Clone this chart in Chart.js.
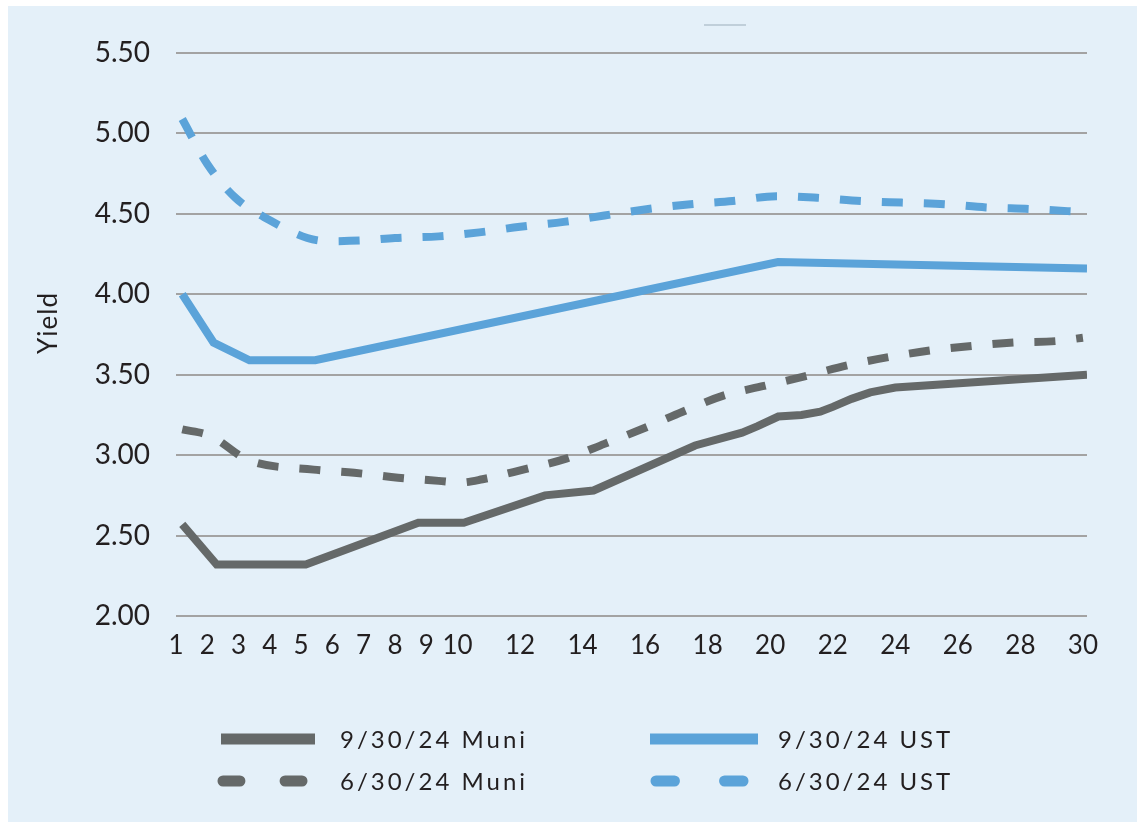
<!DOCTYPE html>
<html>
<head>
<meta charset="utf-8">
<script src="https://cdn.jsdelivr.net/npm/chart.js@4.4.1/dist/chart.umd.min.js"></script>
<style>
  html, body { margin: 0; padding: 0; background: #ffffff; }
  #panel { position: absolute; left: 8px; top: 6px; width: 1129px; height: 816px; background: #E4F0F9; }
  canvas { display: block; }
</style>
</head>
<body>
<div id="panel"><canvas id="curve" width="1129" height="816"></canvas></div>
<script>
// Maturity (years) tick labels shown along the bottom
const maturityTicks = [1, 2, 3, 4, 5, 6, 7, 8, 9, 10, 12, 14, 16, 18, 20, 22, 24, 26, 28, 30];

// 9/30/24 Muni curve
const muniSepX = [1.2, 2.3, 5.15, 8.75, 10.2, 12.8, 14.35, 17.6, 19.1, 19.6, 20.26, 21.0, 21.6, 22.0, 22.6, 23.2, 24.0, 30.13];
const muniSepY = [2.57, 2.32, 2.32, 2.58, 2.58, 2.75, 2.78, 3.06, 3.14, 3.18, 3.24, 3.25, 3.27, 3.30, 3.35, 3.39, 3.42, 3.50];

// 6/30/24 Muni curve
const muniJunX = [1.2, 2.1, 3.3, 5.4, 6.7, 8.1, 9.4, 10.1, 10.8, 12.1, 13.5, 14.7, 16.0, 17.2, 18.5, 19.8, 21.1, 22.5, 23.8, 25.1, 26.5, 27.8, 29.2, 30.0];
const muniJunY = [3.16, 3.12, 2.97, 2.91, 2.89, 2.86, 2.84, 2.83, 2.85, 2.91, 2.98, 3.07, 3.17, 3.27, 3.37, 3.43, 3.49, 3.56, 3.61, 3.65, 3.68, 3.70, 3.71, 3.73];

// 9/30/24 UST curve
const ustSepX = [1.2, 2.2, 3.35, 5.45, 20.25, 30.13];
const ustSepY = [4.00, 3.70, 3.59, 3.59, 4.20, 4.16];

// 6/30/24 UST curve
const ustJunX = [1.2, 2.0, 2.9, 4.0, 5.2, 5.85, 7.0, 8.0, 9.4, 10.7, 12.0, 13.4, 14.7, 16.1, 17.45, 18.8, 20.2, 21.5, 22.9, 24.2, 25.6, 26.9, 28.3, 30.13];
const ustJunY = [5.09, 4.81, 4.60, 4.46, 4.35, 4.33, 4.335, 4.35, 4.36, 4.385, 4.42, 4.45, 4.49, 4.53, 4.56, 4.58, 4.61, 4.60, 4.58, 4.57, 4.56, 4.54, 4.53, 4.51];

const yieldTicksStep = 0.5;
const yAxisTitle = 'Yield';

const GRAY = '#656969';
const BLUE = '#5BA3D9';
const INK = '#231F20';

const pts = (xs, ys) => xs.map((x, i) => ({ x: x, y: ys[i] }));

// Legend layout: two columns, two rows (swatch start, swatch end, text start)
const legendSlots = [
  { x0: 213, x1: 307, tx: 332, y: 733 },
  { x0: 210, x1: 299, tx: 332, y: 775 },
  { x0: 642, x1: 750, tx: 770, y: 733 },
  { x0: 643, x1: 740, tx: 770, y: 775 }
];

const legendPlugin = {
  id: 'curveLegend',
  afterDraw(chart) {
    const ctx = chart.ctx;
    chart.data.datasets.forEach((ds, i) => {
      const s = legendSlots[i];
      ctx.save();
      ctx.strokeStyle = ds.borderColor;
      ctx.lineWidth = 11;
      if (ds.borderDash && ds.borderDash.length) {
        ctx.lineCap = 'round';
        const dash = (s.x1 - s.x0) * 0.19;
        ctx.beginPath();
        ctx.moveTo(s.x0 + 5, s.y); ctx.lineTo(s.x0 + 5 + dash, s.y);
        ctx.moveTo(s.x1 - 5 - dash, s.y); ctx.lineTo(s.x1 - 5, s.y);
        ctx.stroke();
      } else {
        ctx.lineCap = 'butt';
        ctx.beginPath();
        ctx.moveTo(s.x0, s.y); ctx.lineTo(s.x1, s.y);
        ctx.stroke();
      }
      ctx.fillStyle = INK;
      ctx.font = '24px Lato';
      if ('letterSpacing' in ctx) ctx.letterSpacing = '3px';
      ctx.textBaseline = 'middle';
      ctx.textAlign = 'left';
      ctx.fillText(ds.label, s.tx, s.y + 1);
      ctx.restore();
    });

    // rotated axis caption
    ctx.save();
    ctx.fillStyle = INK;
    ctx.font = '26px Lato';
    if ('letterSpacing' in ctx) ctx.letterSpacing = '1px';
    ctx.textAlign = 'center';
    ctx.textBaseline = 'middle';
    ctx.translate(41, 317);
    ctx.rotate(-Math.PI / 2);
    ctx.fillText(yAxisTitle, 0, 0);
    ctx.restore();

    // faint marker stroke near the top
    ctx.save();
    ctx.strokeStyle = '#C0CFDA';
    ctx.lineWidth = 2;
    ctx.beginPath();
    ctx.moveTo(696, 19); ctx.lineTo(738, 19);
    ctx.stroke();
    ctx.restore();
  }
};

new Chart(document.getElementById('curve'), {
  type: 'line',
  data: {
    datasets: [
      { label: '9/30/24 Muni', data: pts(muniSepX, muniSepY), borderColor: GRAY, borderWidth: 8, borderDash: [], tension: 0, borderJoinStyle: 'miter' },
      { label: '6/30/24 Muni', data: pts(muniJunX, muniJunY), borderColor: GRAY, borderWidth: 8, borderDash: [21, 21], cubicInterpolationMode: 'monotone' },
      { label: '9/30/24 UST', data: pts(ustSepX, ustSepY), borderColor: BLUE, borderWidth: 8, borderDash: [], tension: 0, borderJoinStyle: 'miter' },
      { label: '6/30/24 UST', data: pts(ustJunX, ustJunY), borderColor: BLUE, borderWidth: 8, borderDash: [21, 21], cubicInterpolationMode: 'monotone' }
    ]
  },
  options: {
    responsive: false,
    animation: false,
    layout: { padding: { top: 47, right: 50, left: 0, bottom: 146 } },
    elements: { point: { radius: 0 }, line: { borderCapStyle: 'butt', fill: false } },
    plugins: { legend: { display: false }, tooltip: { enabled: false } },
    scales: {
      x: {
        type: 'linear',
        min: 1,
        max: 30.13,
        afterBuildTicks(scale) { scale.ticks = maturityTicks.map(v => ({ value: v })); },
        afterFit(scale) { scale.height = 60; },
        grid: { display: false },
        border: { display: false },
        ticks: {
          autoSkip: false, maxRotation: 0, minRotation: 0,
          color: INK, font: { family: "'Liberation Sans Narrow', 'Arial Narrow', Lato", size: 26 }, padding: 6,
          callback: v => String(v)
        }
      },
      y: {
        min: 2,
        max: 5.5,
        afterFit(scale) { scale.width = 168; },
        grid: { color: '#A3A3A3', lineWidth: 2, drawTicks: false },
        border: { display: false },
        ticks: {
          stepSize: yieldTicksStep,
          color: INK, font: { family: 'Lato', size: 28 }, padding: 26,
          callback: v => Number(v).toFixed(2)
        }
      }
    }
  },
  plugins: [legendPlugin]
});
</script>
</body>
</html>
